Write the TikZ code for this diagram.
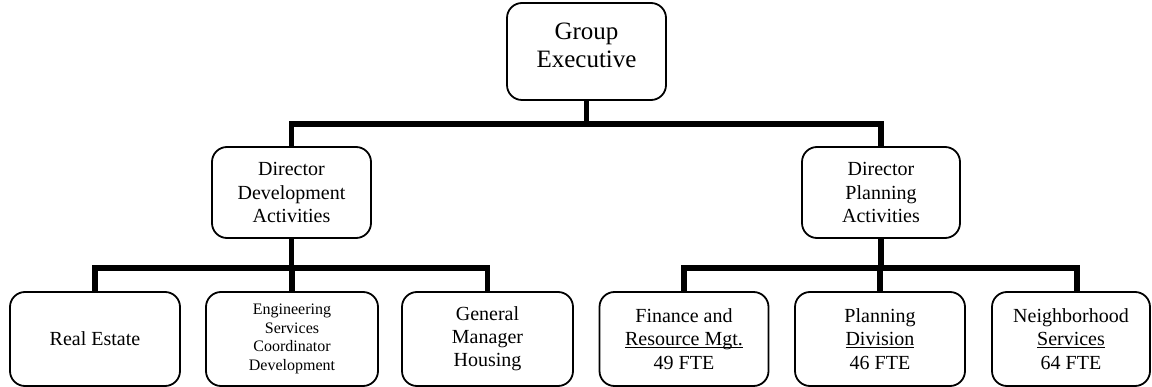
\documentclass[tikz,border=0pt]{standalone}
\usepackage{fontspec}
\setmainfont{Liberation Serif}
\newcommand{\ulx}[1]{\underline{\smash{#1}}}
\begin{document}
\begin{tikzpicture}[x=1pt,y=-1pt,
  box/.style={draw,line width=1.8pt,rounded corners=15pt,align=center,inner sep=0pt},
  conn/.style={line width=5.5pt,line join=miter,line cap=butt},
  big/.style={font=\fontsize{25}{28}\selectfont},
  mid/.style={font=\fontsize{20}{23.2}\selectfont},
  small/.style={font=\fontsize{16}{18.6}\selectfont}]
\useasboundingbox (0,0) rectangle (1152,387);
% top
\node[box,minimum width=159pt,minimum height=97pt] (ge) at (586.5,51.5) {};
\node[big,align=center,inner sep=0pt] (get) at (586.5,45) {Group\\Executive};
% directors
\node[box,mid,minimum width=159pt,minimum height=91pt] (dd) at (291.5,192.5) {Director\\Development\\Activities};
\node[box,mid,minimum width=158pt,minimum height=91pt] (dp) at (881,192.5) {Director\\Planning\\Activities};
% bottom row
\node[box,mid,minimum width=170pt,minimum height=94pt] (re) at (95,339) {Real Estate};
\node[box,small,minimum width=172pt,minimum height=94pt] (es) at (292,339) {Engineering\\Services\\Coordinator\\Development};
\node[box,mid,minimum width=171pt,minimum height=94pt] (gm) at (487.5,339) {General\\Manager\\Housing};
\node[box,mid,minimum width=169pt,minimum height=94pt] (fr) at (684,339) {Finance and\\\ulx{Resource Mgt.}\\49 FTE};
\node[box,mid,minimum width=170pt,minimum height=94pt] (pd) at (880,339) {Planning\\\ulx{Division}\\46 FTE};
\node[box,mid,minimum width=158pt,minimum height=94pt] (ns) at (1071,339) {Neighborhood\\\ulx{Services}\\64 FTE};
% connector levels
\coordinate (h1) at (0,124);
\coordinate (h2) at (0,268);
\coordinate (nsx) at ([xshift=6pt]ns.north);
% connectors
\draw[conn] (ge.south) -- (ge.south |- h1);
\draw[conn] (dd.north) -- (dd.north |- h1) -- (dp.north |- h1) -- (dp.north);
\draw[conn] (dd.south) -- (dd.south |- h2);
\draw[conn] (re.north) -- (re.north |- h2) -- (gm.north |- h2) -- (gm.north);
\draw[conn] (es.north) -- (es.north |- h2);
\draw[conn] (dp.south) -- (dp.south |- h2);
\draw[conn] (fr.north) -- (fr.north |- h2) -- (nsx |- h2) -- (nsx);
\draw[conn] (pd.north) -- (pd.north |- h2);
\end{tikzpicture}
\end{document}
